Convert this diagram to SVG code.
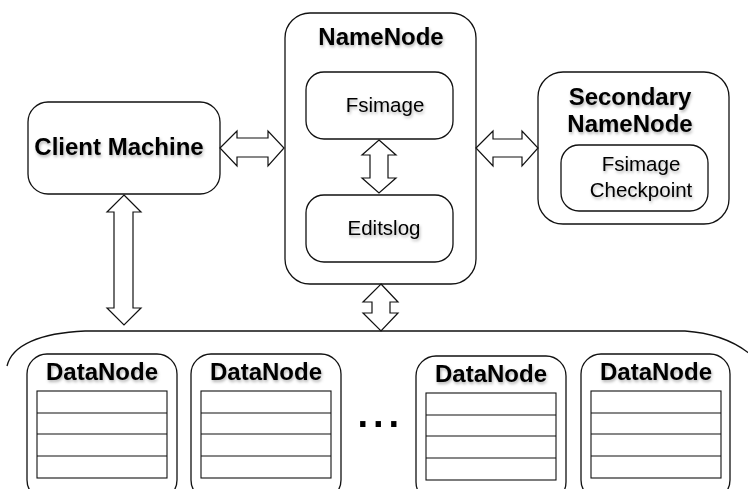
<svg xmlns="http://www.w3.org/2000/svg" width="748" height="489" viewBox="0 0 748 489">
  <defs>
    <filter id="soft" x="-10%" y="-30%" width="130%" height="180%">
      <feDropShadow dx="1" dy="2" stdDeviation="1.4" flood-color="#000" flood-opacity="0.3"/>
    </filter>
    <style>
      .box { fill: #fff; stroke: #111; stroke-width: 1.3; }
      .arrow { fill: #fff; stroke: #111; stroke-width: 1.2; stroke-linejoin: miter; }
      .grid { fill: #fff; stroke: #111; stroke-width: 1.1; }
      .row { stroke: #111; stroke-width: 1.1; }
      .title { font-family: "Liberation Sans", Arial, sans-serif; font-weight: bold; font-size: 24px; fill: #000; text-anchor: middle; filter: url(#soft); }
      .label { font-family: "Liberation Sans", Arial, sans-serif; font-size: 20.5px; fill: #000; text-anchor: middle; filter: url(#soft); }
      .bus { fill: none; stroke: #111; stroke-width: 1.3; }
    </style>
  </defs>

  <rect width="748" height="489" fill="#fff"/>

  <!-- cluster enclosure around the DataNodes -->
  <path class="bus" d="M7,366 C12,345 40,333 85,331 L685,331 C715,333 735,342 750,354"/>

  <g id="client-machine">
    <rect class="box" x="28" y="102" width="192" height="92" rx="20"/>
    <text class="title" x="119" y="155">Client Machine</text>
  </g>

  <g id="namenode">
    <rect class="box" x="285" y="13" width="191" height="271" rx="25"/>
    <text class="title" x="381" y="45">NameNode</text>
  </g>

  <g id="fsimage">
    <rect class="box" x="306" y="72" width="147" height="67" rx="18"/>
    <text class="label" x="385" y="112">Fsimage</text>
  </g>

  <g id="editslog">
    <rect class="box" x="306" y="195" width="147" height="67" rx="18"/>
    <text class="label" x="384" y="235">Editslog</text>
  </g>

  <g id="secondary-namenode">
    <rect class="box" x="538" y="72" width="191" height="152" rx="25"/>
    <text class="title" x="630" y="105">Secondary</text>
    <text class="title" x="630" y="132">NameNode</text>
  </g>

  <g id="fsimage-checkpoint">
    <rect class="box" x="561" y="145" width="147" height="66" rx="18"/>
    <text class="label" x="641" y="171">Fsimage</text>
    <text class="label" x="641" y="197">Checkpoint</text>
  </g>

  <g id="datanode-1">
    <rect class="box" x="27" y="354" width="150" height="146" rx="20"/>
    <text class="title" x="102" y="380">DataNode</text>
    <rect class="grid" x="37" y="391" width="130" height="87"/>
    <line class="row" x1="37" y1="413" x2="167" y2="413"/>
    <line class="row" x1="37" y1="434" x2="167" y2="434"/>
    <line class="row" x1="37" y1="456" x2="167" y2="456"/>
  </g>

  <g id="datanode-2">
    <rect class="box" x="191" y="354" width="150" height="146" rx="20"/>
    <text class="title" x="266" y="380">DataNode</text>
    <rect class="grid" x="201" y="391" width="130" height="87"/>
    <line class="row" x1="201" y1="413" x2="331" y2="413"/>
    <line class="row" x1="201" y1="434" x2="331" y2="434"/>
    <line class="row" x1="201" y1="456" x2="331" y2="456"/>
  </g>

  <text id="ellipsis" x="355" y="427" font-family="Liberation Sans, Arial, sans-serif" font-size="56" fill="#000">...</text>

  <g id="datanode-3">
    <rect class="box" x="416" y="356" width="150" height="146" rx="20"/>
    <text class="title" x="491" y="382">DataNode</text>
    <rect class="grid" x="426" y="393" width="130" height="87"/>
    <line class="row" x1="426" y1="415" x2="556" y2="415"/>
    <line class="row" x1="426" y1="436" x2="556" y2="436"/>
    <line class="row" x1="426" y1="458" x2="556" y2="458"/>
  </g>

  <g id="datanode-4">
    <rect class="box" x="581" y="354" width="149" height="146" rx="20"/>
    <text class="title" x="656" y="380">DataNode</text>
    <rect class="grid" x="591" y="391" width="130" height="87"/>
    <line class="row" x1="591" y1="413" x2="721" y2="413"/>
    <line class="row" x1="591" y1="434" x2="721" y2="434"/>
    <line class="row" x1="591" y1="456" x2="721" y2="456"/>
  </g>

  <!-- double-headed block arrows -->
  <g id="connectors">
    <polygon class="arrow" points="220,148 237,131 237,138 268,138 268,131 284,148 268,166 268,157 237,157 237,166"/>
    <polygon class="arrow" points="476,148 493,131 493,139 522,139 522,131 538,148 522,166 522,157 493,157 493,166"/>
    <polygon class="arrow" points="124,195 141,212 133,212 133,308 141,308 124,325 107,308 114,308 114,212 107,212"/>
    <polygon class="arrow" points="379,140 396,155 388,155 388,178 396,178 379,193 362,178 370,178 370,155 362,155"/>
    <polygon class="arrow" points="381,284 398,302 390,302 390,313 398,313 381,331 363,313 372,313 372,302 363,302"/>
  </g>
</svg>
